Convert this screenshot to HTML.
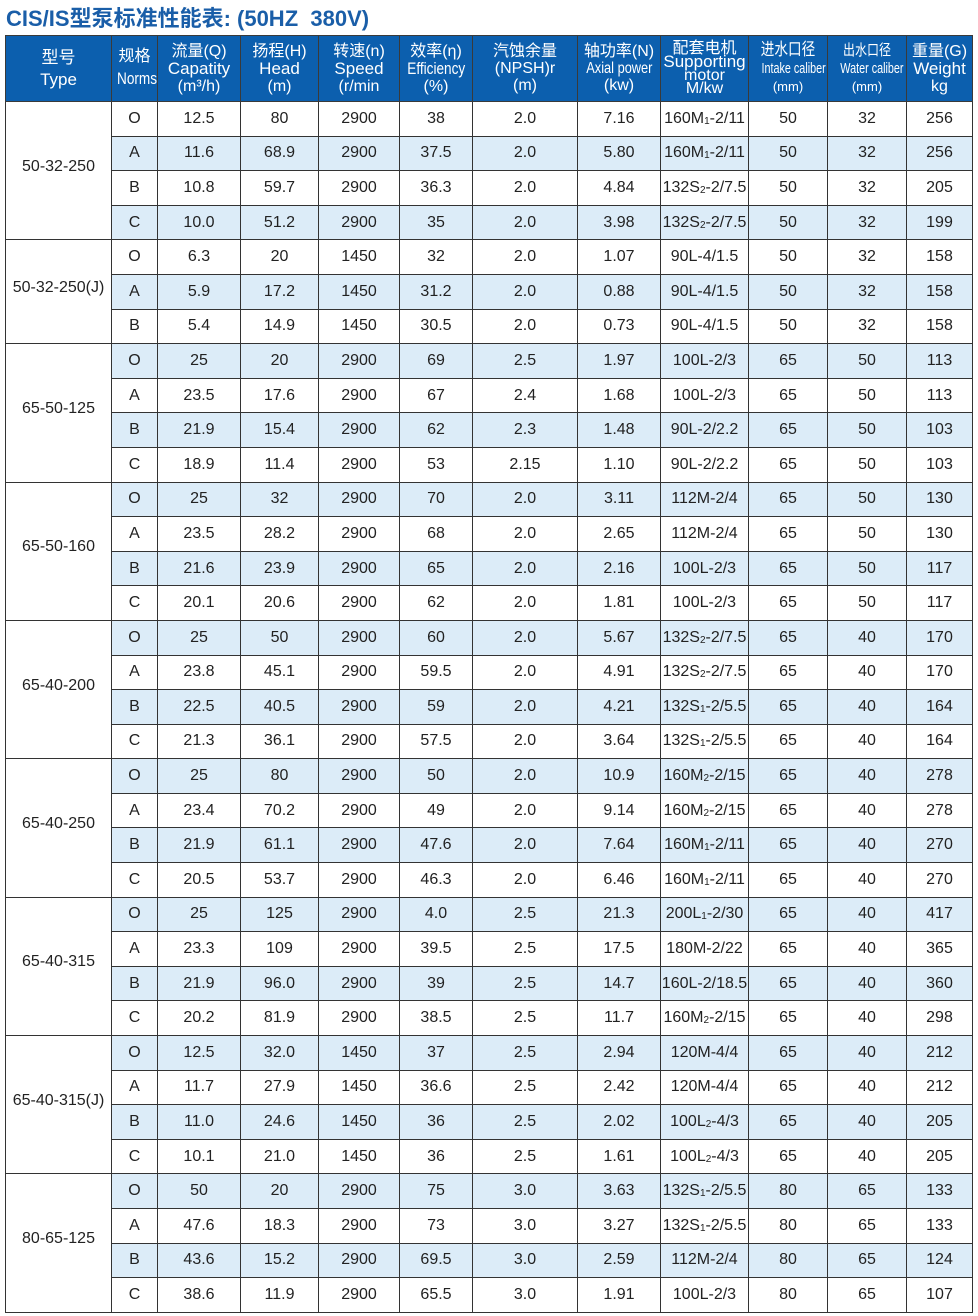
<!DOCTYPE html>
<html><head><meta charset="utf-8">
<style>
body{margin:0;width:978px;height:1316px;background:#fff;overflow:hidden;font-family:"Liberation Sans","Noto Sans CJK SC",sans-serif;}
.title{position:absolute;left:6px;top:1px;font-size:22px;font-weight:bold;color:#1a5ea8;}
table{position:absolute;left:5px;top:35px;border-collapse:collapse;table-layout:fixed;width:967px;}
td,th{border:1px solid #333;text-align:center;padding:0;font-size:16px;color:#222;}
th{background:#0c5fae;color:#fff;font-weight:normal;height:65px;line-height:16px;font-size:16px;border-color:#3a3a3a;overflow:hidden;white-space:nowrap;}
th .c{display:inline-block;transform:scaleX(0.8);transform-origin:center;}
tr.r td{height:33.6px;}
tr.b td{background:#dcecf8;}
td.m{background:#fff !important;padding-bottom:8px;}
sub{font-size:10px;vertical-align:baseline;position:relative;top:1px}
</style></head><body>
<div class="title">CIS/IS型泵标准性能表: (50HZ&nbsp;&nbsp;380V)</div>
<table>
<colgroup><col style="width:106px"><col style="width:46px"><col style="width:83px"><col style="width:78px"><col style="width:81px"><col style="width:73px"><col style="width:105px"><col style="width:83px"><col style="width:88px"><col style="width:79px"><col style="width:79px"><col style="width:66px"></colgroup>
<tr><th style="font-size:17px;line-height:22px">型号<br>Type</th><th style="line-height:22px">规格<br><span class="c" style="font-size:17px">Norms</span></th><th style="line-height:17px">流量(Q)<br><span style="font-size:17px">Capatity</span><br>(m³/h)</th><th style="line-height:17px">扬程(H)<br><span style="font-size:17px">Head</span><br>(m)</th><th style="line-height:17px">转速(n)<br><span style="font-size:17px">Speed</span><br>(r/min</th><th style="line-height:17px">效率(η)<br><span class="c" style="font-size:17px">Efficiency</span><br>(%)</th><th style="line-height:17px">汽蚀余量<br>(NPSH)r<br>(m)</th><th style="line-height:17px">轴功率(N)<br><span class="c" style="font-size:16px">Axial power</span><br>(kw)</th><th style="line-height:13px">配套电机<br><span style="font-size:17px">Supporting</span><br>motor<br>M/kw</th><th style="line-height:18px"><span class="c" style="font-size:17px">进水口径</span><br><span class="c" style="font-size:15px;transform:scaleX(0.72)">Intake caliber</span><br><span style="font-size:13px">(mm)</span></th><th style="line-height:18px"><span class="c" style="font-size:15px">出水口径</span><br><span class="c" style="font-size:15px;transform:scaleX(0.72)">Water caliber</span><br><span style="font-size:13px">(mm)</span></th><th style="line-height:17px">重量(G)<br><span style="font-size:17px">Weight</span><br>kg</th></tr>

<tr class="r"><td class="m" rowspan="4">50-32-250</td><td>O</td><td>12.5</td><td>80</td><td>2900</td><td>38</td><td>2.0</td><td>7.16</td><td>160M<sub>1</sub>-2/11</td><td>50</td><td>32</td><td>256</td></tr>
<tr class="r b"><td>A</td><td>11.6</td><td>68.9</td><td>2900</td><td>37.5</td><td>2.0</td><td>5.80</td><td>160M<sub>1</sub>-2/11</td><td>50</td><td>32</td><td>256</td></tr>
<tr class="r"><td>B</td><td>10.8</td><td>59.7</td><td>2900</td><td>36.3</td><td>2.0</td><td>4.84</td><td>132S<sub>2</sub>-2/7.5</td><td>50</td><td>32</td><td>205</td></tr>
<tr class="r b"><td>C</td><td>10.0</td><td>51.2</td><td>2900</td><td>35</td><td>2.0</td><td>3.98</td><td>132S<sub>2</sub>-2/7.5</td><td>50</td><td>32</td><td>199</td></tr>

<tr class="r"><td class="m" rowspan="3">50-32-250(J)</td><td>O</td><td>6.3</td><td>20</td><td>1450</td><td>32</td><td>2.0</td><td>1.07</td><td>90L-4/1.5</td><td>50</td><td>32</td><td>158</td></tr>
<tr class="r b"><td>A</td><td>5.9</td><td>17.2</td><td>1450</td><td>31.2</td><td>2.0</td><td>0.88</td><td>90L-4/1.5</td><td>50</td><td>32</td><td>158</td></tr>
<tr class="r"><td>B</td><td>5.4</td><td>14.9</td><td>1450</td><td>30.5</td><td>2.0</td><td>0.73</td><td>90L-4/1.5</td><td>50</td><td>32</td><td>158</td></tr>

<tr class="r b"><td class="m" rowspan="4">65-50-125</td><td>O</td><td>25</td><td>20</td><td>2900</td><td>69</td><td>2.5</td><td>1.97</td><td>100L-2/3</td><td>65</td><td>50</td><td>113</td></tr>
<tr class="r"><td>A</td><td>23.5</td><td>17.6</td><td>2900</td><td>67</td><td>2.4</td><td>1.68</td><td>100L-2/3</td><td>65</td><td>50</td><td>113</td></tr>
<tr class="r b"><td>B</td><td>21.9</td><td>15.4</td><td>2900</td><td>62</td><td>2.3</td><td>1.48</td><td>90L-2/2.2</td><td>65</td><td>50</td><td>103</td></tr>
<tr class="r"><td>C</td><td>18.9</td><td>11.4</td><td>2900</td><td>53</td><td>2.15</td><td>1.10</td><td>90L-2/2.2</td><td>65</td><td>50</td><td>103</td></tr>

<tr class="r b"><td class="m" rowspan="4">65-50-160</td><td>O</td><td>25</td><td>32</td><td>2900</td><td>70</td><td>2.0</td><td>3.11</td><td>112M-2/4</td><td>65</td><td>50</td><td>130</td></tr>
<tr class="r"><td>A</td><td>23.5</td><td>28.2</td><td>2900</td><td>68</td><td>2.0</td><td>2.65</td><td>112M-2/4</td><td>65</td><td>50</td><td>130</td></tr>
<tr class="r b"><td>B</td><td>21.6</td><td>23.9</td><td>2900</td><td>65</td><td>2.0</td><td>2.16</td><td>100L-2/3</td><td>65</td><td>50</td><td>117</td></tr>
<tr class="r"><td>C</td><td>20.1</td><td>20.6</td><td>2900</td><td>62</td><td>2.0</td><td>1.81</td><td>100L-2/3</td><td>65</td><td>50</td><td>117</td></tr>

<tr class="r b"><td class="m" rowspan="4">65-40-200</td><td>O</td><td>25</td><td>50</td><td>2900</td><td>60</td><td>2.0</td><td>5.67</td><td>132S<sub>2</sub>-2/7.5</td><td>65</td><td>40</td><td>170</td></tr>
<tr class="r"><td>A</td><td>23.8</td><td>45.1</td><td>2900</td><td>59.5</td><td>2.0</td><td>4.91</td><td>132S<sub>2</sub>-2/7.5</td><td>65</td><td>40</td><td>170</td></tr>
<tr class="r b"><td>B</td><td>22.5</td><td>40.5</td><td>2900</td><td>59</td><td>2.0</td><td>4.21</td><td>132S<sub>1</sub>-2/5.5</td><td>65</td><td>40</td><td>164</td></tr>
<tr class="r"><td>C</td><td>21.3</td><td>36.1</td><td>2900</td><td>57.5</td><td>2.0</td><td>3.64</td><td>132S<sub>1</sub>-2/5.5</td><td>65</td><td>40</td><td>164</td></tr>

<tr class="r b"><td class="m" rowspan="4">65-40-250</td><td>O</td><td>25</td><td>80</td><td>2900</td><td>50</td><td>2.0</td><td>10.9</td><td>160M<sub>2</sub>-2/15</td><td>65</td><td>40</td><td>278</td></tr>
<tr class="r"><td>A</td><td>23.4</td><td>70.2</td><td>2900</td><td>49</td><td>2.0</td><td>9.14</td><td>160M<sub>2</sub>-2/15</td><td>65</td><td>40</td><td>278</td></tr>
<tr class="r b"><td>B</td><td>21.9</td><td>61.1</td><td>2900</td><td>47.6</td><td>2.0</td><td>7.64</td><td>160M<sub>1</sub>-2/11</td><td>65</td><td>40</td><td>270</td></tr>
<tr class="r"><td>C</td><td>20.5</td><td>53.7</td><td>2900</td><td>46.3</td><td>2.0</td><td>6.46</td><td>160M<sub>1</sub>-2/11</td><td>65</td><td>40</td><td>270</td></tr>

<tr class="r b"><td class="m" rowspan="4">65-40-315</td><td>O</td><td>25</td><td>125</td><td>2900</td><td>4.0</td><td>2.5</td><td>21.3</td><td>200L<sub>1</sub>-2/30</td><td>65</td><td>40</td><td>417</td></tr>
<tr class="r"><td>A</td><td>23.3</td><td>109</td><td>2900</td><td>39.5</td><td>2.5</td><td>17.5</td><td>180M-2/22</td><td>65</td><td>40</td><td>365</td></tr>
<tr class="r b"><td>B</td><td>21.9</td><td>96.0</td><td>2900</td><td>39</td><td>2.5</td><td>14.7</td><td>160L-2/18.5</td><td>65</td><td>40</td><td>360</td></tr>
<tr class="r"><td>C</td><td>20.2</td><td>81.9</td><td>2900</td><td>38.5</td><td>2.5</td><td>11.7</td><td>160M<sub>2</sub>-2/15</td><td>65</td><td>40</td><td>298</td></tr>

<tr class="r b"><td class="m" rowspan="4">65-40-315(J)</td><td>O</td><td>12.5</td><td>32.0</td><td>1450</td><td>37</td><td>2.5</td><td>2.94</td><td>120M-4/4</td><td>65</td><td>40</td><td>212</td></tr>
<tr class="r"><td>A</td><td>11.7</td><td>27.9</td><td>1450</td><td>36.6</td><td>2.5</td><td>2.42</td><td>120M-4/4</td><td>65</td><td>40</td><td>212</td></tr>
<tr class="r b"><td>B</td><td>11.0</td><td>24.6</td><td>1450</td><td>36</td><td>2.5</td><td>2.02</td><td>100L<sub>2</sub>-4/3</td><td>65</td><td>40</td><td>205</td></tr>
<tr class="r"><td>C</td><td>10.1</td><td>21.0</td><td>1450</td><td>36</td><td>2.5</td><td>1.61</td><td>100L<sub>2</sub>-4/3</td><td>65</td><td>40</td><td>205</td></tr>

<tr class="r b"><td class="m" rowspan="4">80-65-125</td><td>O</td><td>50</td><td>20</td><td>2900</td><td>75</td><td>3.0</td><td>3.63</td><td>132S<sub>1</sub>-2/5.5</td><td>80</td><td>65</td><td>133</td></tr>
<tr class="r"><td>A</td><td>47.6</td><td>18.3</td><td>2900</td><td>73</td><td>3.0</td><td>3.27</td><td>132S<sub>1</sub>-2/5.5</td><td>80</td><td>65</td><td>133</td></tr>
<tr class="r b"><td>B</td><td>43.6</td><td>15.2</td><td>2900</td><td>69.5</td><td>3.0</td><td>2.59</td><td>112M-2/4</td><td>80</td><td>65</td><td>124</td></tr>
<tr class="r"><td>C</td><td>38.6</td><td>11.9</td><td>2900</td><td>65.5</td><td>3.0</td><td>1.91</td><td>100L-2/3</td><td>80</td><td>65</td><td>107</td></tr>
</table>
</body></html>
